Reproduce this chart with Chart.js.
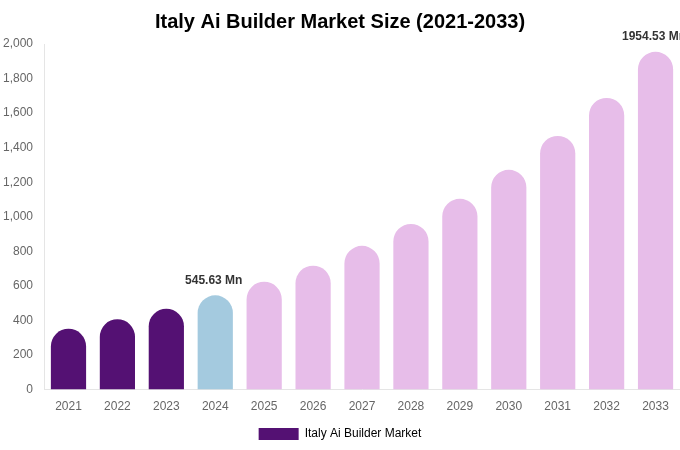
<!DOCTYPE html>
<html lang="en">
<head>
<meta charset="UTF-8">
<title>Italy Ai Builder Market Size</title>
<script src="https://cdn.jsdelivr.net/npm/chart.js"></script>
<style>
    body {
        margin: 0;
        background: #fff;
        font-family: "Liberation Sans", Arial, sans-serif;
    }
    .wrap {
        width: 680px;
        height: 450px;
    }
</style>
</head>
<body>
<div class="wrap">
    <canvas id="chart"></canvas>
</div>
<script>
    const years = ['2021', '2022', '2023', '2024', '2025', '2026', '2027', '2028', '2029', '2030', '2031', '2032', '2033'];
    const marketSize = [352, 407, 468, 545.63, 624, 717, 832, 959, 1104, 1272, 1468, 1688, 1954.53];
    const labelled = { 3: '545.63 Mn', 12: '1954.53 Mn' };
    const yTicks = [0, 200, 400, 600, 800, 1000, 1200, 1400, 1600, 1800, 2000];

    const purple = '#541173';
    const blue = '#a4cadf';
    const pink = '#e7bde9';
    const barColors = years.map((y, i) => i < 3 ? purple : (i === 3 ? blue : pink));

    // draws "xxx Mn" over the chosen bars
    const valueLabels = {
        id: 'valueLabels',
        afterDatasetsDraw(chart) {
            const ctx = chart.ctx;
            const meta = chart.getDatasetMeta(0);
            ctx.save();
            ctx.font = 'bold 12px "Liberation Sans", Arial, sans-serif';
            ctx.fillStyle = '#333';
            ctx.textAlign = 'center';
            ctx.textBaseline = 'bottom';
            Object.keys(labelled).forEach(i => {
                const bar = meta.data[i];
                ctx.fillText(labelled[i], bar.x - 1.5, bar.y - 9);
            });
            ctx.restore();
        }
    };

    Chart.defaults.font.family = '"Liberation Sans", Arial, sans-serif';
    Chart.defaults.font.size = 12;
    Chart.defaults.color = '#666';

    new Chart(document.getElementById('chart'), {
        type: 'bar',
        data: {
            labels: years,
            datasets: [{
                label: 'Italy Ai Builder Market',
                data: marketSize,
                backgroundColor: barColors,
                borderRadius: 40,
                borderSkipped: 'start',
                categoryPercentage: 0.8,
                barPercentage: 0.9
            }]
        },
        options: {
            responsive: true,
            maintainAspectRatio: false,
            animation: false,
            layout: { padding: { left: 0, right: 0, top: 0, bottom: 0 } },
            scales: {
                x: {
                    grid: { display: false },
                    border: { color: '#e5e5e5' },
                    ticks: { color: '#666', padding: 2 },
                    afterFit: axis => { axis.height += 2; }
                },
                y: {
                    min: 0,
                    max: 2000,
                    afterBuildTicks: axis => { axis.ticks = yTicks.map(v => ({ value: v })); },
                    grid: { display: false },
                    border: { color: '#e5e5e5' },
                    ticks: {
                        color: '#666',
                        callback: v => v.toLocaleString('en-US')
                    }
                }
            },
            plugins: {
                title: {
                    display: true,
                    text: 'Italy Ai Builder Market Size (2021-2033)',
                    color: '#000',
                    font: { size: 20, weight: 'bold' },
                    padding: { top: 10, bottom: 10 }
                },
                legend: {
                    position: 'bottom',
                    labels: {
                        color: '#666',
                        boxWidth: 40,
                        boxHeight: 12,
                        padding: 10,
                        generateLabels: chart => [{
                            text: chart.data.datasets[0].label,
                            fillStyle: purple,
                            strokeStyle: purple,
                            lineWidth: 0,
                            datasetIndex: 0
                        }]
                    }
                },
                tooltip: { enabled: false }
            }
        },
        plugins: [valueLabels]
    });
</script>
</body>
</html>
